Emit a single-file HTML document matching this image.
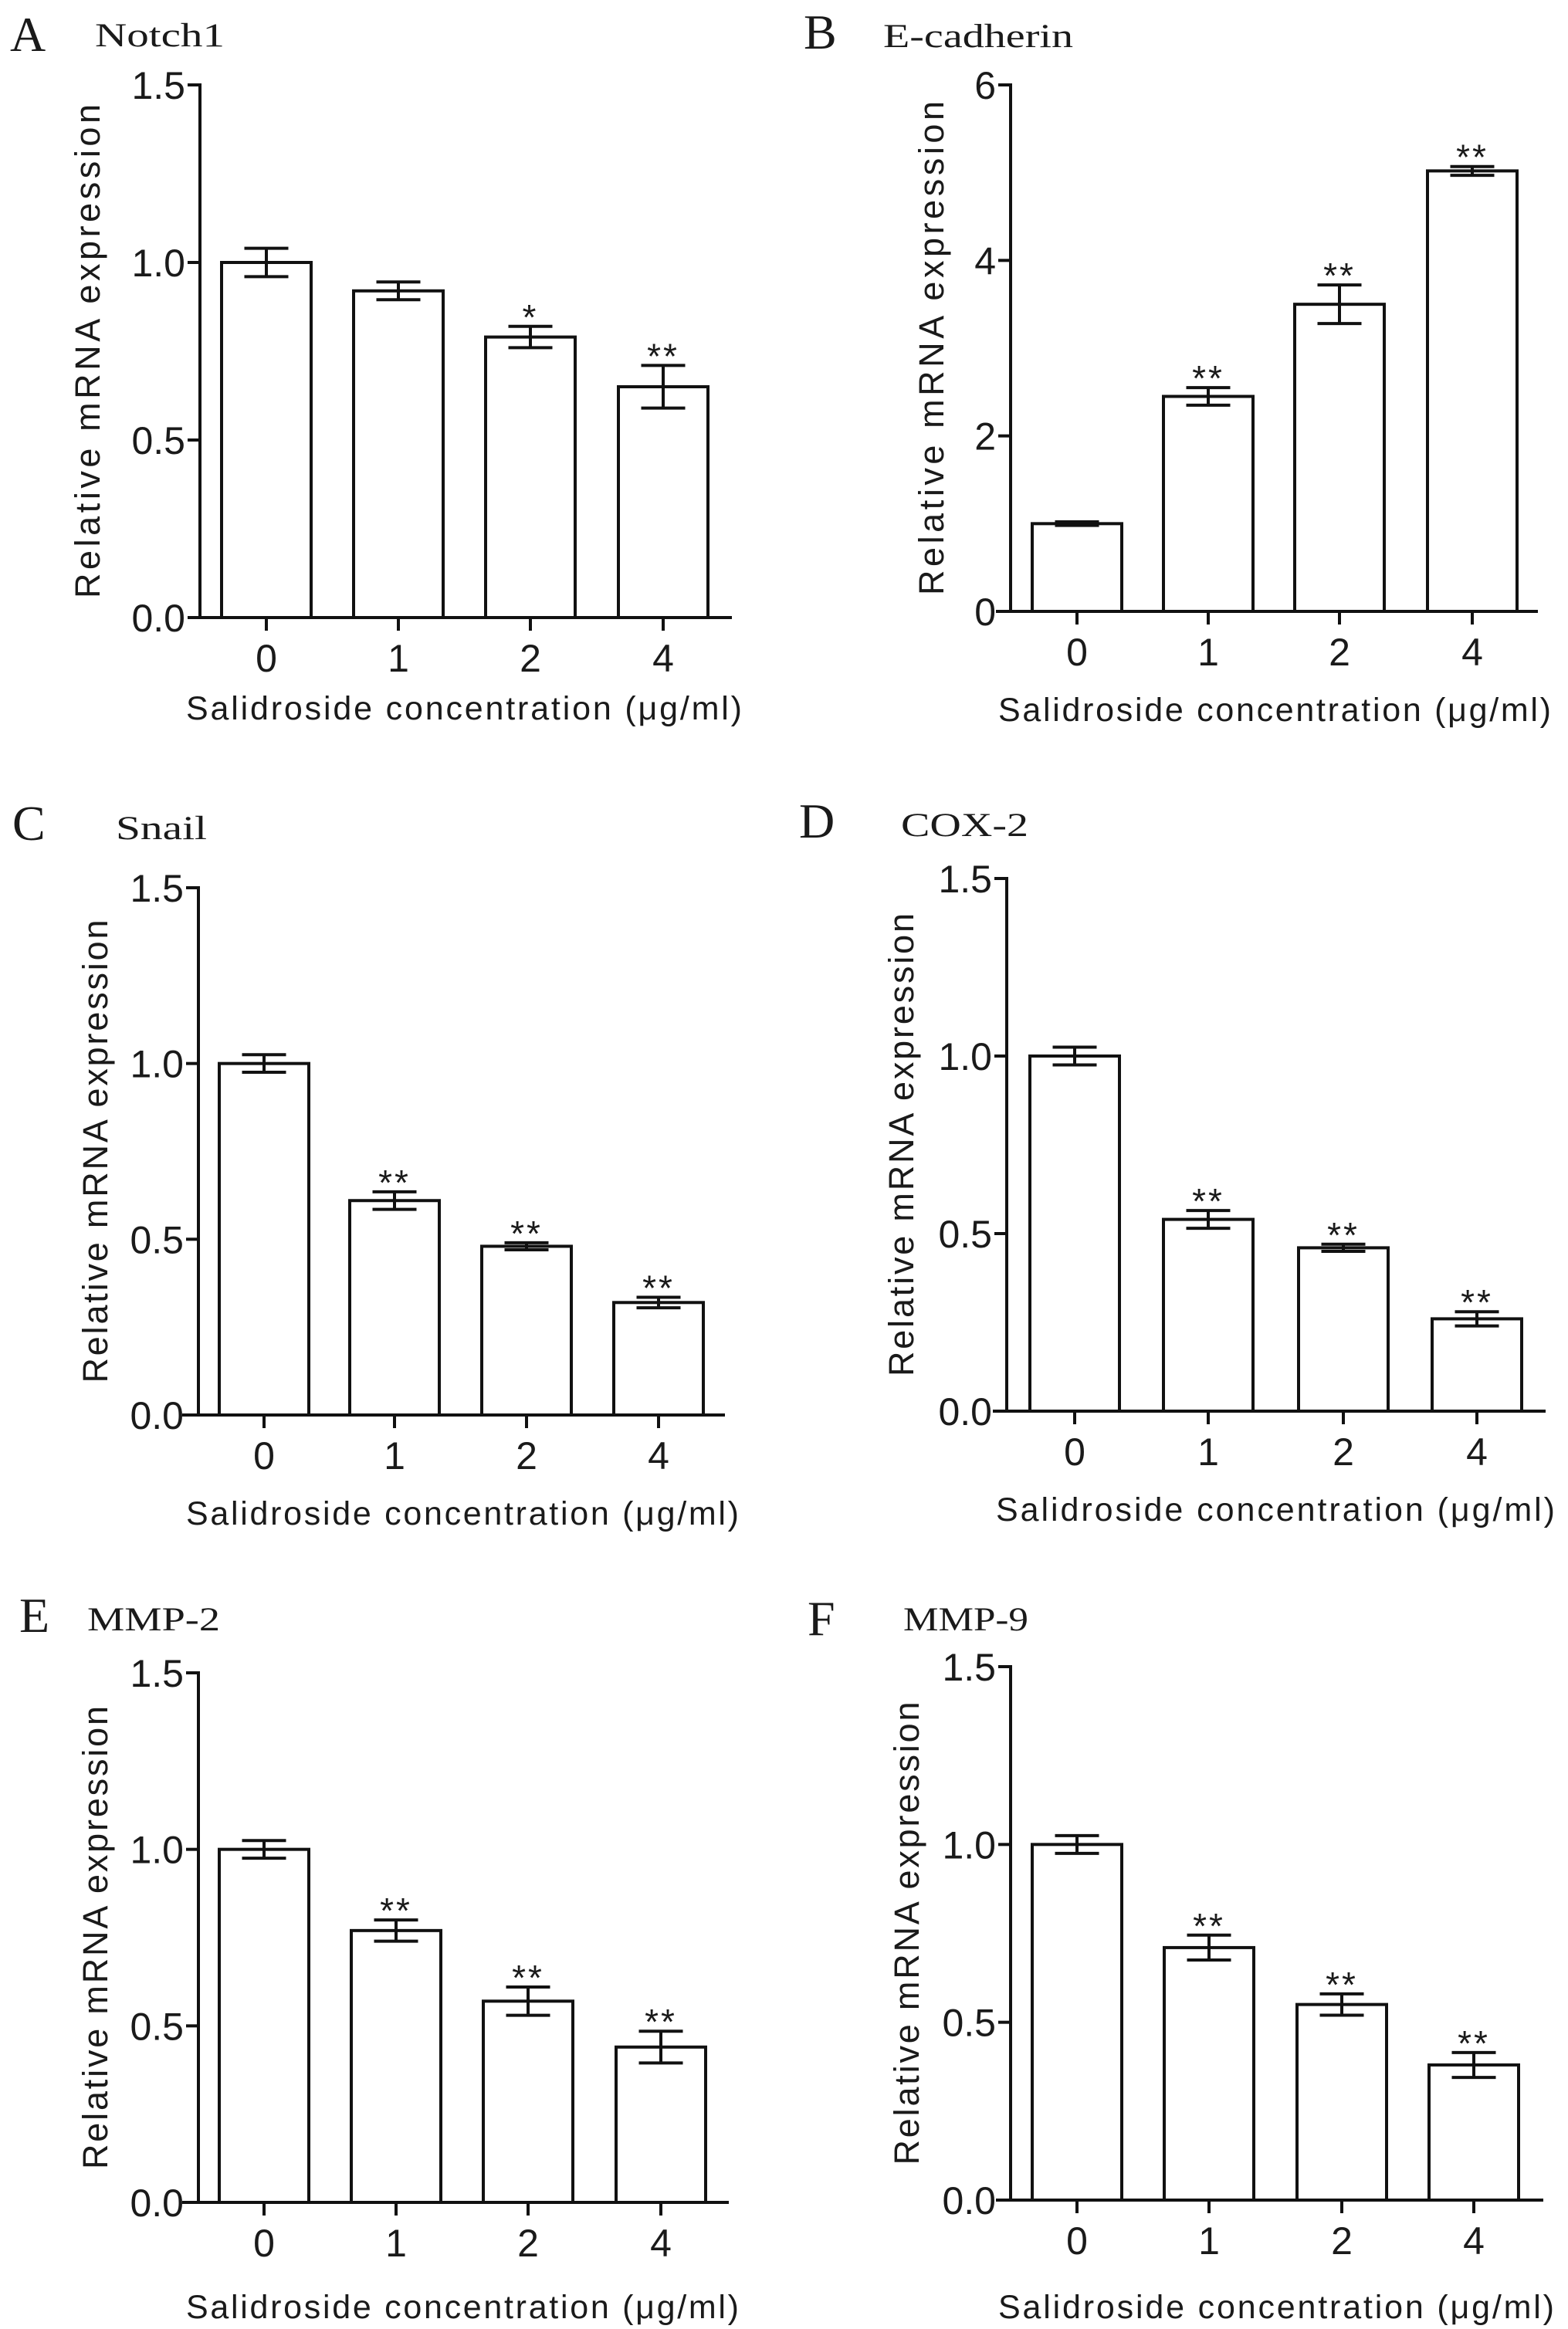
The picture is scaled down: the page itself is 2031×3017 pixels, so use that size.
<!DOCTYPE html>
<html><head><meta charset="utf-8"><style>
html,body{margin:0;padding:0;background:#fff;}
svg{display:block;}
.t{font-family:"Liberation Sans",sans-serif;fill:#1a1a1a;}
.s{font-family:"Liberation Serif",serif;fill:#1a1a1a;}
</style></head><body>
<svg id="fig" width="2031" height="3017" viewBox="0 0 2031 3017" xmlns="http://www.w3.org/2000/svg"></svg>
<script>
const categories = ["0","1","2","4"];
const notchValues = [1.0, 0.92, 0.79, 0.65];
const notchErrors = [0.04, 0.025, 0.03, 0.06];
const notchSig = ["", "", "*", "**"];
const ecadValues = [1.0, 2.45, 3.5, 5.02];
const ecadErrors = [0.02, 0.1, 0.22, 0.05];
const ecadSig = ["", "**", "**", "**"];
const snailValues = [1.0, 0.61, 0.48, 0.32];
const snailErrors = [0.025, 0.025, 0.01, 0.015];
const snailSig = ["", "**", "**", "**"];
const coxValues = [1.0, 0.54, 0.46, 0.26];
const coxErrors = [0.025, 0.025, 0.01, 0.02];
const coxSig = ["", "**", "**", "**"];
const mmp2Values = [1.0, 0.77, 0.57, 0.44];
const mmp2Errors = [0.025, 0.03, 0.04, 0.045];
const mmp2Sig = ["", "**", "**", "**"];
const mmp9Values = [1.0, 0.71, 0.55, 0.38];
const mmp9Errors = [0.025, 0.035, 0.03, 0.035];
const mmp9Sig = ["", "**", "**", "**"];
const ticks15 = [0, 0.5, 1.0, 1.5];
const ticks15Labels = ["0.0","0.5","1.0","1.5"];
const ticks6 = [0, 2, 4, 6];
const ticks6Labels = ["0","2","4","6"];

const NS = "http://www.w3.org/2000/svg";
const svg = document.getElementById('fig');
function mk(tag, attrs, parent, text){
  const e = document.createElementNS(NS, tag);
  for (const k in attrs) e.setAttribute(k, attrs[k]);
  if (text !== undefined) e.textContent = text;
  (parent || svg).appendChild(e);
  return e;
}

const panels = [
 {key:'a', letter:'A', gene:'Notch1', lx:13, ly:66, gx:123, gy:60, gw:168, ax:259, top:110, bot:800, xl:243, xr:948, centers:[345,516,687,859], yt:113, ytl:640, xtx:241, xtw:720, xty:932, max:1.5, ticks:ticks15, tl:ticks15Labels, vals:notchValues, errs:notchErrors, sig:notchSig},
 {key:'b', letter:'B', gene:'E-cadherin', lx:1041, ly:63, gx:1144, gy:61, gw:246, ax:1309, top:110, bot:792, xl:1290, xr:1992, centers:[1395,1565,1735,1907], yt:1206, ytl:640, xtx:1293, xtw:716, xty:934, max:6, ticks:ticks6, tl:ticks6Labels, vals:ecadValues, errs:ecadErrors, sig:ecadSig},
 {key:'c', letter:'C', gene:'Snail', lx:16, ly:1088, gx:150, gy:1087, gw:118, ax:257, top:1150, bot:1833, xl:236, xr:939, centers:[342,511,682,853], yt:123, ytl:600, xtx:241, xtw:716, xty:1975, max:1.5, ticks:ticks15, tl:ticks15Labels, vals:snailValues, errs:snailErrors, sig:snailSig},
 {key:'d', letter:'D', gene:'COX-2', lx:1035, ly:1085, gx:1167, gy:1083, gw:165, ax:1304, top:1138, bot:1828, xl:1286, xr:2002, centers:[1392,1565,1740,1913], yt:1167, ytl:600, xtx:1290, xtw:724, xty:1970, max:1.5, ticks:ticks15, tl:ticks15Labels, vals:coxValues, errs:coxErrors, sig:coxSig},
 {key:'e', letter:'E', gene:'MMP-2', lx:25, ly:2114, gx:113, gy:2112, gw:172, ax:257, top:2167, bot:2853, xl:236, xr:944, centers:[342,513,684,856], yt:123, ytl:600, xtx:241, xtw:716, xty:3003, max:1.5, ticks:ticks15, tl:ticks15Labels, vals:mmp2Values, errs:mmp2Errors, sig:mmp2Sig},
 {key:'f', letter:'F', gene:'MMP-9', lx:1046, ly:2118, gx:1170, gy:2112, gw:162, ax:1309, top:2159, bot:2850, xl:1290, xr:1999, centers:[1395,1566,1738,1909], yt:1174, ytl:600, xtx:1293, xtw:720, xty:3003, max:1.5, ticks:ticks15, tl:ticks15Labels, vals:mmp9Values, errs:mmp9Errors, sig:mmp9Sig}
];

const SW = 4, BW = 116, CAP = 57;
panels.forEach(p => {
  const g = mk('g', {});
  
  
  const y = v => p.bot - (v / p.max) * (p.bot - p.top);

  const L = mk('text', {x:p.lx, y:p.ly, class:'s', 'font-size':64}, g, p.letter);
  
  
  const G = mk('text', {x:p.gx, y:p.gy, class:'s', 'font-size':43, textLength:p.gw, lengthAdjust:'spacingAndGlyphs'}, g, p.gene);
  
  

  p.vals.forEach((v, i) => {
    const cx = p.centers[i];
    const r = mk('rect', {x:cx - BW/2, y:y(v), width:BW, height:p.bot - y(v), fill:'#fff', stroke:'#111', 'stroke-width':SW}, g);
    
    
    const e = p.errs[i];
    const eb = mk('path', {d:`M${cx-CAP/2},${y(v+e)}H${cx+CAP/2}M${cx-CAP/2},${y(v-e)}H${cx+CAP/2}M${cx},${y(v+e)}V${y(v-e)}`, stroke:'#111', 'stroke-width':SW, fill:'none'}, g);
    
    
    if (p.sig[i]) {
      const st = mk('text', {x:cx, y:y(v+e) + 4, class:'t', 'font-size':46, 'text-anchor':'middle', 'letter-spacing':3}, g, p.sig[i]);
      
      
    }
    const tk = mk('line', {x1:cx, x2:cx, y1:p.bot, y2:p.bot + 17, stroke:'#111', 'stroke-width':SW}, g);
    
    
    const tl = mk('text', {x:cx, y:p.bot + 70, class:'t', 'font-size':50, 'text-anchor':'middle'}, g, categories[i]);
    
    
  });

  const ya = mk('line', {x1:p.ax, x2:p.ax, y1:p.top - 2, y2:p.bot + 2, stroke:'#111', 'stroke-width':SW}, g);
  
  
  const xa = mk('line', {x1:p.xl, x2:p.xr, y1:p.bot, y2:p.bot, stroke:'#111', 'stroke-width':SW}, g);
  
  
  p.ticks.forEach((t, j) => {
    const ty = y(t);
    const tk = mk('line', {x1:p.ax - 16, x2:p.ax, y1:ty, y2:ty, stroke:'#111', 'stroke-width':SW}, g);
    
    
    const tl = mk('text', {x:p.ax - 19, y:ty + 18, class:'t', 'font-size':50, 'text-anchor':'end'}, g, p.tl[j]);
    
    
  });

  const mid = (p.top + p.bot) / 2;
  const yt = mk('text', {x:0, y:0, class:'t', 'font-size':45, 'text-anchor':'middle', textLength:p.ytl, lengthAdjust:'spacing', transform:`translate(${p.yt + 16},${mid}) rotate(-90)`}, g, 'Relative mRNA expression');
  
  
  const xt = mk('text', {x:p.xtx, y:p.xty, class:'t', 'font-size':43, textLength:p.xtw, lengthAdjust:'spacing'}, g, 'Salidroside concentration (μg/ml)');
  
  
});
</script>
</body></html>
